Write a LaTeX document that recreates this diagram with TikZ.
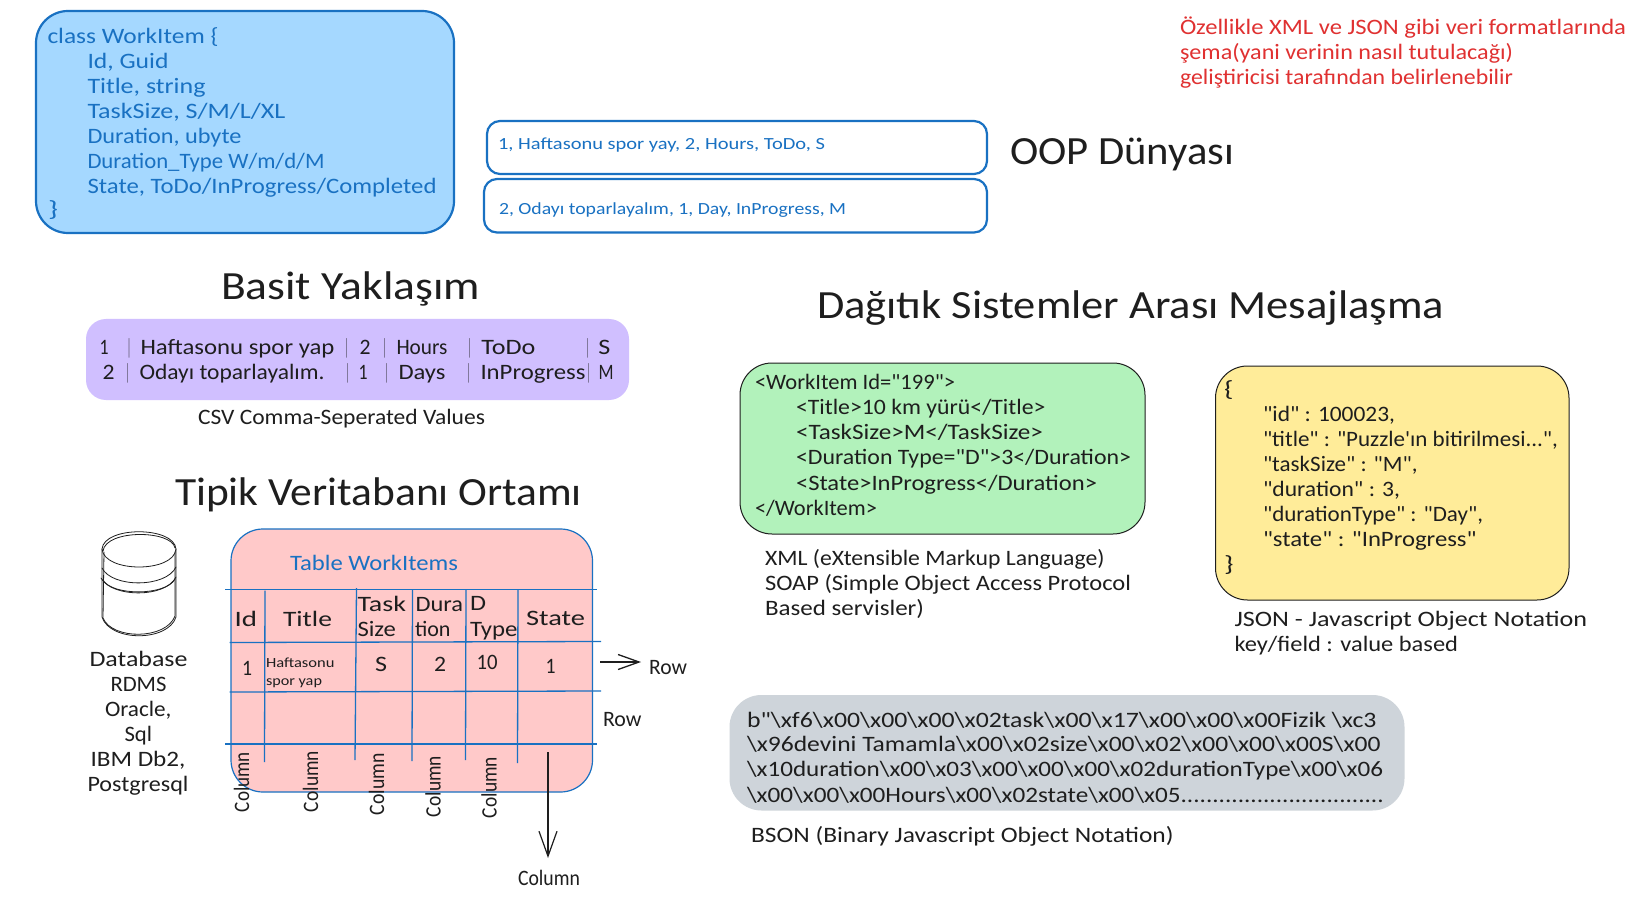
\documentclass[tikz,border=0pt]{standalone}
\usepackage{graphicx}
\usepackage{fontspec}
\setmainfont{Carlito}[Ligatures=TeXOff]
\usetikzlibrary{arrows.meta}
\definecolor{ink}{HTML}{1E1E1E}
\definecolor{sblue}{HTML}{1971C2}
\definecolor{sred}{HTML}{E03131}
\definecolor{fblue}{HTML}{A5D8FF}
\definecolor{fpurple}{HTML}{D0BFFF}
\definecolor{fpink}{HTML}{FFC9C9}
\definecolor{fgreen}{HTML}{B2F2BB}
\definecolor{fyellow}{HTML}{FFEC99}
\definecolor{fgray}{HTML}{CED4DA}
\newcommand\bs{\textbackslash}
% \tx[style]{name}{x}{y centre}{width}{text}
\newcommand\tx[6][]{\node[txt,#1] (#2) at (#3,#4) {\resizebox{#5pt}{\height}{#6}};}
% piece of a line placed at an offset inside one node
\newcommand\pos[3]{\rlap{\hspace{#1pt}\resizebox{#2pt}{\height}{#3}}}
\tikzset{
  txt/.style={anchor=base west,inner sep=0pt,outer sep=0pt,text=ink},
  s12/.style={font=\fontsize{14}{16}\selectfont,yshift=-5.5pt},
  s16/.style={font=\fontsize{17}{20}\selectfont,yshift=-6.5pt},
  s20/.style={font=\fontsize{22}{25}\selectfont,yshift=-8pt},
  s36/.style={font=\fontsize{40}{45}\selectfont,yshift=-13pt},
  cblue/.style={text=sblue},
  cred/.style={text=sred},
  vtxt/.style={anchor=base west,inner sep=0pt,outer sep=0pt,text=ink,rotate=90,font=\fontsize{22}{25}\selectfont},
  box/.style={rounded corners=#1},
  grid/.style={draw=sblue,line width=1.3pt},
  sketch/.style={draw=ink,line width=.8pt,line cap=round},
  barbA/.style={draw=ink,line width=1.5pt,-{Straight Barb[length=21pt,width=15pt,line width=1.3pt]}},
  barbB/.style={draw=ink,line width=1.3pt,-{Straight Barb[length=25pt,width=18pt,line width=1.2pt]}},
}
\begin{document}
\begin{tikzpicture}[x=1pt,y=-1pt]
\useasboundingbox[fill=white] (0,0) rectangle (1636,909);
% boxes
\draw[box=32pt,fill=fblue,draw=sblue,line width=2.2pt] (36,11) rectangle (454,233);
\draw[box=13pt,fill=white,draw=sblue,line width=2.2pt] (487,121) rectangle (987,174);
\draw[box=13pt,fill=white,draw=sblue,line width=2.2pt] (484,179) rectangle (987,232.5);
\fill[box=20pt,fill=fpurple] (86,319) rectangle (629,400);
\draw[box=32pt,fill=fpink,draw=sblue,line width=1.2pt] (231,529) rectangle (592.5,792);
\draw[box=32pt,fill=fgreen,draw=ink,line width=1pt] (740,363) rectangle (1145,534);
\draw[box=32pt,fill=fyellow,draw=ink,line width=1pt] (1215.5,366) rectangle (1569,600);
\fill[box=32pt,fill=fgray] (729.5,695) rectangle (1404.5,810.5);
% class
\tx[s20,cblue]{c1}{47.5}{35.5}{171}{class WorkItem \{}
\tx[s20,cblue]{c2}{87.5}{60.5}{81}{Id, Guid}
\tx[s20,cblue]{c3}{87.5}{85.5}{118}{Title, string}
\tx[s20,cblue]{c4}{87.5}{110.5}{198}{TaskSize, S/M/L/XL}
\tx[s20,cblue]{c5}{87.5}{135.5}{154}{Duration, ubyte}
\tx[s20,cblue]{c6}{87.5}{160.5}{237}{Duration\_Type W/m/d/M}
\tx[s20,cblue]{c7}{87.5}{185.5}{349}{State, ToDo/InProgress/Completed}
\tx[s20,cblue]{c8}{48}{209}{10}{\}}
\tx[s16,cblue]{r1}{498}{143}{327}{1, Haftasonu spor yay, 2, Hours, ToDo, S}
\tx[s16,cblue]{r2}{499}{208.5}{347}{2, Odayı toparlayalım, 1, Day, InProgress, M}
\tx[s36]{oop}{1010}{152}{224}{OOP Dünyası}
\tx[s20,cred]{n1}{1180}{27}{446}{Özellikle XML ve JSON gibi veri formatlarında}
\tx[s20,cred]{n2}{1180}{52}{333}{şema(yani verinin nasıl tutulacağı)}
\tx[s20,cred]{n3}{1180}{77}{333}{geliştiricisi tarafından belirlenebilir}
% simple approach
\tx[s36]{basit}{221}{287}{259}{Basit Yaklaşım}
\node[txt,s20] (csv1) at (101,346) {\pos{-2}{9}{1}\pos{26}{3}{|}\pos{39}{194}{Haftasonu spor yap}\pos{243.5}{3}{|}\pos{258}{11}{2}\pos{281.5}{3}{|}\pos{295}{51}{Hours}\pos{366.5}{3}{|}\pos{380}{54}{ToDo}\pos{484.5}{3}{|}\pos{497}{12}{S}\hspace{509pt}};
\node[txt,s20] (csv2) at (101,371) {\pos{1}{12}{2}\pos{24.5}{3}{|}\pos{38}{185}{Odayı toparlayalım.}\pos{244.5}{3}{|}\pos{257}{9}{1}\pos{283.5}{3}{|}\pos{297}{47}{Days}\pos{365.5}{3}{|}\pos{379}{105}{InProgress}\pos{485.5}{3}{|}\pos{497}{15}{M}\hspace{511pt}};
\tx[s20]{csvcap}{198}{416}{287}{CSV Comma-Seperated Values}
\tx[s36]{tipik}{175}{492}{407}{Tipik Veritabanı Ortamı}
% database
\draw[sketch] (102,549) .. controls (104,526) and (174,526) .. (176,549) .. controls (174,573) and (104,573) .. (102,549);
\draw[sketch] (103,551) .. controls (106,529) and (172,530) .. (175,548);
\draw[sketch] (102,549) -- (102,617) .. controls (110,642) and (168,642) .. (176,617) -- (176,549);
\draw[sketch] (104,552) -- (103,618) .. controls (112,640) and (166,640) .. (175,616) -- (175,552);
\draw[sketch] (102,568) .. controls (112,588) and (166,588) .. (176,567);
\draw[sketch] (101,578) .. controls (112,598) and (166,598) .. (176,577);
\draw[sketch] (103,580) .. controls (112,596) and (166,596) .. (175,579);
\tx[s20]{d1}{89.5}{658}{98}{Database}
\tx[s20]{d2}{110.5}{683}{56}{RDMS}
\tx[s20]{d3}{105}{708}{66.5}{Oracle,}
\tx[s20]{d4}{124.5}{733}{27.5}{Sql}
\tx[s20]{d5}{90.5}{758}{95}{IBM Db2,}
\tx[s20]{d6}{87.5}{783}{101}{Postgresql}
% table
\tx[s20,cblue]{tt}{290}{562}{168}{Table WorkItems}
\draw[grid] (225,589.5) -- (597,589.5);
\draw[grid] (229.5,642.5) -- (601,641.5);
\draw[grid] (229.5,692) -- (601,691);
\draw[grid] (225,744) -- (597,744);
\draw[grid] (265,590.5) -- (264.5,762);
\draw[grid] (356.5,588) -- (355,760);
\draw[grid] (412.5,590) -- (412,761);
\draw[grid] (466,590) -- (465.5,760);
\draw[grid] (518,590) -- (517.5,763);
\tx[s20]{h1}{234.5}{618}{22.5}{Id}
\tx[s20]{h2}{283}{618}{49}{Title}
\tx[s20]{h3}{357.5}{603}{48.5}{Task}
\tx[s20]{h3b}{357.5}{628}{38.5}{Size}
\tx[s20]{h4}{415.5}{603}{47.5}{Dura}
\tx[s20]{h4b}{415}{628}{35.5}{tion}
\tx[s20]{h5}{470}{602}{16}{D}
\tx[s20]{h5b}{470}{628}{47.5}{Type}
\tx[s20]{h6}{526}{617}{59}{State}
\tx[s20]{v1}{242}{667}{10}{1}
\tx[s12]{v2}{266}{662}{68.5}{Haftasonu}
\tx[s12]{v2b}{266}{680}{56}{spor yap}
\tx[s20]{v3}{375}{663}{12}{S}
\tx[s20]{v4}{434}{663}{12}{2}
\tx[s20]{v5}{476.5}{661}{21}{10}
\tx[s20]{v6}{545.5}{665}{10}{1}
\coordinate (rowA) at (600,662);
\coordinate (rowB) at (641,662);
\draw[barbA] (rowA) -- (rowB);
\tx[s20]{row1}{649}{666}{38}{Row}
\tx[s20]{row2}{603}{718}{38.5}{Row}
\node[vtxt] (k1) at (249,812) {\resizebox{60pt}{\height}{Column}};
\node[vtxt] (k2) at (318,812) {\resizebox{61pt}{\height}{Column}};
\node[vtxt] (k3) at (384,815) {\resizebox{62pt}{\height}{Column}};
\node[vtxt] (k4) at (440.5,817) {\resizebox{61pt}{\height}{Column}};
\node[vtxt] (k5) at (496.5,818) {\resizebox{61pt}{\height}{Column}};
\coordinate (colA) at (548,752);
\coordinate (colB) at (548,858);
\draw[barbB] (colA) -- (colB);
\tx[s20]{colt}{518}{877}{62}{Column}
% messaging
\tx[s36]{dag}{817}{306}{627}{Dağıtık Sistemler Arası Mesajlaşma}
\tx[s20]{x1}{755}{381.5}{200}{<WorkItem Id="199">}
\tx[s20]{x2}{796}{406.5}{249.5}{<Title>10 km yürü</Title>}
\tx[s20]{x3}{796}{431.5}{247}{<TaskSize>M</TaskSize>}
\tx[s20]{x4}{796}{456.5}{335}{<Duration Type="D">3</Duration>}
\tx[s20]{x5}{796}{482}{301}{<State>InProgress</Duration>}
\tx[s20]{x6}{755}{507}{122}{</WorkItem>}
\tx[s20]{xc1}{765}{557}{339.5}{XML (eXtensible Markup Language)}
\tx[s20]{xc2}{765}{582}{366}{SOAP (Simple Object Access Protocol}
\tx[s20]{xc3}{765}{607}{159}{Based servisler)}
\tx[s20]{j0}{1224}{388}{9.5}{\{}
\tx[s20]{j1}{1263}{413}{132}{"id" : 100023,}
\tx[s20]{j2}{1263}{438}{295}{"title" : "Puzzle'ın bitirilmesi...",}
\tx[s20]{j3}{1263}{463}{154.5}{"taskSize" : "M",}
\tx[s20]{j4}{1263}{488}{137}{"duration" : 3,}
\tx[s20]{j5}{1263}{513}{220}{"durationType" : "Day",}
\tx[s20]{j6}{1263}{538}{213.5}{"state" : "InProgress"}
\tx[s20]{j7}{1224}{563}{9.5}{\}}
\tx[s20]{jc1}{1234.5}{618}{352.5}{JSON - Javascript Object Notation}
\tx[s20]{jc2}{1234.5}{643}{223.5}{key/field : value based}
\tx[s20]{b1}{747}{719}{629.5}{b"\bs xf6\bs x00\bs x00\bs x00\bs x02task\bs x00\bs x17\bs x00\bs x00\bs x00Fizik \bs xc3}
\tx[s20]{b2}{747}{743.5}{633.5}{\bs x96devini Tamamla\bs x00\bs x02size\bs x00\bs x02\bs x00\bs x00\bs x00S\bs x00}
\tx[s20]{b3}{747}{768.5}{636}{\bs x10duration\bs x00\bs x03\bs x00\bs x00\bs x00\bs x02durationType\bs x00\bs x06}
\tx[s20]{b4}{747}{794}{637}{\bs x00\bs x00\bs x00Hours\bs x00\bs x02state\bs x00\bs x05................................}
\tx[s20]{bc}{751}{834}{422.5}{BSON (Binary Javascript Object Notation)}
\end{tikzpicture}
\end{document}
